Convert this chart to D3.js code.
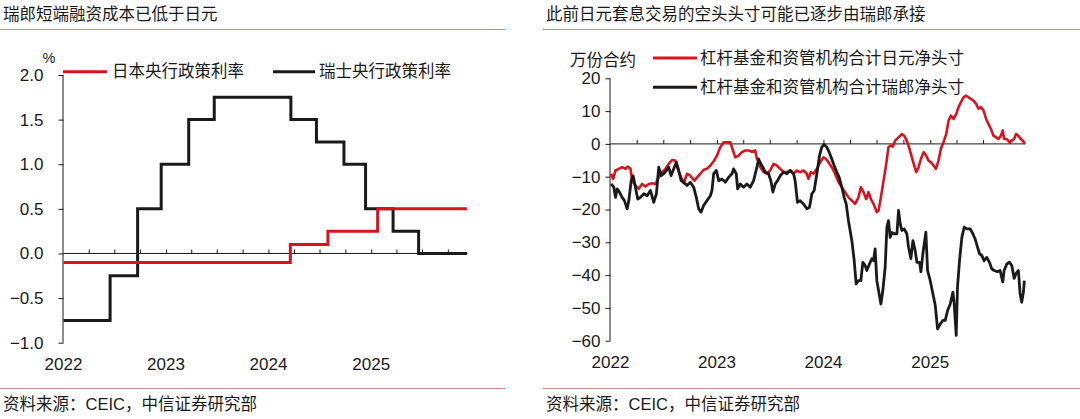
<!DOCTYPE html>
<html><head><meta charset="utf-8">
<script src="https://cdn.jsdelivr.net/npm/d3@7"></script>
<style>
body{margin:0;background:#fff;}
svg{display:block;}
text{font-family:"Liberation Sans","Noto Sans CJK SC",Arial,sans-serif;fill:#1a1a1a;}
</style></head>
<body>
<svg id="c" width="1080" height="419"></svg>
<script>
// ---------- DATA ----------
const leftTitle = "瑞郎短端融资成本已低于日元";
const rightTitle = "此前日元套息交易的空头头寸可能已逐步由瑞郎承接";
const sourceText = "资料来源：CEIC，中信证券研究部";
const leftLegend = ["日本央行政策利率", "瑞士央行政策利率"];
const rightLegend = ["杠杆基金和资管机构合计日元净头寸", "杠杆基金和资管机构合计瑞郎净头寸"];
const yearLabels = ["2022", "2023", "2024", "2025"];
const leftYTicks = [2.0, 1.5, 1.0, 0.5, 0.0, -0.5, -1.0];
const rightYTicks = [20, 10, 0, -10, -20, -30, -40, -50, -60];

const bojDates = ["2022-01-01", "2024-03-19", "2024-07-31", "2025-01-24"];
const bojRates = [-0.1, 0.1, 0.25, 0.5];
const snbDates = ["2022-01-01", "2022-06-16", "2022-09-22", "2022-12-15", "2023-03-23", "2023-06-22",
  "2024-03-21", "2024-06-20", "2024-09-26", "2024-12-12", "2025-03-20", "2025-06-19"];
const snbRates = [-0.75, -0.25, 0.5, 1.0, 1.5, 1.75, 1.5, 1.25, 1.0, 0.5, 0.25, 0.0];
const rateEnd = "2025-12-08";

// net positions (10k contracts), x as decimal year
const jpyT = [2022.006,2022.025,2022.047,2022.078,2022.109,2022.141,2022.163,2022.188,2022.203,2022.234,2022.266,2022.297,2022.328,2022.359,2022.391,2022.422,2022.453,2022.484,2022.516,2022.547,2022.578,2022.609,2022.631,2022.656,2022.688,2022.719,2022.75,2022.788,2022.813,2022.844,2022.875,2022.906,2022.938,2022.969,
  2023.0,2023.031,2023.063,2023.094,2023.125,2023.15,2023.172,2023.203,2023.234,2023.266,2023.297,2023.328,2023.359,2023.375,2023.391,2023.406,2023.438,2023.469,2023.5,2023.531,2023.563,2023.594,2023.625,2023.656,2023.688,2023.719,2023.75,2023.781,2023.813,2023.844,2023.859,2023.881,2023.906,2023.938,2023.969,
  2024.0,2024.025,2024.047,2024.078,2024.109,2024.141,2024.172,2024.203,2024.234,2024.266,2024.297,2024.328,2024.35,2024.375,2024.4,2024.422,2024.444,2024.469,2024.5,2024.516,2024.538,2024.563,2024.588,2024.609,2024.631,2024.65,2024.672,2024.703,2024.734,2024.756,2024.781,2024.806,2024.828,2024.85,2024.869,2024.891,2024.913,2024.938,2024.963,2024.984,
  2025.006,2025.031,2025.053,2025.078,2025.1,2025.125,2025.15,2025.172,2025.194,2025.219,2025.244,2025.266,2025.288,2025.313,2025.338,2025.359,2025.381,2025.406,2025.431,2025.453,2025.475,2025.5,2025.525,2025.547,2025.569,2025.594,2025.619,2025.641,2025.663,2025.681,2025.694,2025.719,2025.744,2025.766,2025.788,2025.806,2025.828,2025.85,2025.869,2025.891];
const jpyV = [-9.1,-10.7,-8.1,-7.6,-7.1,-7.6,-6.9,-7.6,-11.2,-12.7,-13.7,-12.2,-13.0,-12.2,-12.0,-12.2,-10.2,-8.6,-7.6,-6.1,-4.9,-5.1,-7.6,-9.7,-12.0,-9.1,-9.7,-11.2,-10.2,-9.1,-7.9,-7.6,-6.6,-5.3,
  -3.6,-1.0,0.5,0.5,0.5,-2.0,-4.1,-3.6,-2.5,-2.0,-2.0,-2.4,-2.0,-4.6,-5.1,-7.1,-8.6,-9.1,-8.1,-6.1,-6.6,-7.6,-8.6,-8.6,-8.1,-9.1,-8.1,-8.6,-8.1,-9.1,-10.7,-8.6,-9.1,-7.6,-5.6,
  -4.1,-4.6,-5.6,-7.1,-9.1,-11.7,-13.2,-14.7,-16.3,-17.3,-18.3,-16.3,-13.2,-14.7,-16.8,-14.7,-16.8,-18.3,-20.8,-20.3,-16.3,-11.2,-6.1,-1.0,-0.5,-0.8,1.0,2.0,3.0,2.5,1.0,-1.5,-4.1,-6.6,-8.6,-7.1,-4.6,-2.5,-3.6,-5.1,
  -5.6,-6.6,-7.6,-5.1,-1.5,0.5,3.0,7.1,8.6,7.6,9.1,11.2,12.7,14.2,14.7,14.2,13.7,13.2,12.2,10.7,11.2,10.2,7.6,6.1,4.6,2.5,2.0,1.5,2.5,4.1,1.5,1.5,0.5,1.0,1.5,3.0,2.5,1.5,1.0,0.0];

const chfT = [2022.006,2022.031,2022.047,2022.063,2022.084,2022.109,2022.131,2022.156,2022.172,2022.194,2022.213,2022.234,2022.256,2022.281,2022.313,2022.344,2022.375,2022.406,2022.431,2022.453,2022.475,2022.5,2022.525,2022.547,2022.569,2022.594,2022.619,2022.641,2022.663,2022.688,2022.719,2022.75,2022.781,2022.806,2022.828,2022.85,2022.875,2022.906,2022.938,2022.953,2022.969,2022.994,
  2023.016,2023.047,2023.078,2023.109,2023.141,2023.156,2023.181,2023.194,2023.219,2023.25,2023.281,2023.313,2023.344,2023.375,2023.391,2023.413,2023.431,2023.453,2023.484,2023.506,2023.525,2023.547,2023.569,2023.594,2023.625,2023.656,2023.688,2023.719,2023.734,2023.756,2023.781,2023.813,2023.844,2023.869,2023.891,2023.913,2023.938,2023.963,2023.984,
  2024.006,2024.031,2024.053,2024.078,2024.1,2024.125,2024.147,2024.172,2024.194,2024.213,2024.234,2024.266,2024.288,2024.306,2024.328,2024.35,2024.369,2024.391,2024.406,2024.431,2024.453,2024.469,2024.484,2024.5,2024.516,2024.538,2024.556,2024.578,2024.594,2024.609,2024.625,2024.641,2024.663,2024.688,2024.703,2024.719,2024.734,2024.756,2024.781,2024.797,2024.819,2024.838,2024.859,2024.875,2024.9,2024.913,2024.931,2024.959,2024.975,
  2025.0,2025.025,2025.047,2025.069,2025.094,2025.119,2025.141,2025.163,2025.188,2025.213,2025.225,2025.244,2025.256,2025.275,2025.297,2025.319,2025.344,2025.375,2025.4,2025.422,2025.444,2025.463,2025.484,2025.506,2025.531,2025.556,2025.578,2025.6,2025.631,2025.656,2025.681,2025.694,2025.719,2025.744,2025.766,2025.788,2025.806,2025.828,2025.844,2025.859,2025.875,2025.884];
const chfV = [-12.2,-13.2,-16.3,-13.7,-14.7,-16.3,-17.3,-19.8,-17.3,-11.2,-9.7,-13.2,-16.8,-16.3,-15.2,-15.8,-14.2,-17.8,-15.2,-7.1,-9.7,-9.1,-8.1,-7.1,-9.7,-7.6,-5.6,-8.1,-11.2,-11.7,-12.7,-11.7,-13.2,-16.3,-19.8,-20.8,-18.8,-17.3,-15.8,-14.2,-9.1,-8.1,
  -11.2,-10.7,-11.7,-10.2,-9.1,-7.6,-9.1,-13.7,-12.2,-13.2,-12.2,-13.2,-11.2,-7.1,-4.6,-6.1,-7.1,-8.6,-9.1,-11.2,-14.7,-12.2,-11.2,-9.7,-8.6,-9.1,-8.1,-9.1,-11.2,-17.8,-17.3,-18.3,-19.8,-19.3,-15.2,-14.2,-9.1,-3.6,-1.0,
  -0.2,-1.0,-2.5,-4.6,-6.6,-8.6,-10.2,-13.2,-16.3,-18.3,-23.4,-29.5,-35.6,-42.7,-41.7,-41.7,-36.1,-37.1,-38.6,-36.6,-35.0,-35.6,-32.0,-41.7,-44.7,-48.8,-44.7,-37.6,-25.4,-23.4,-28.5,-27.0,-27.4,-27.4,-20.3,-24.4,-26.4,-25.9,-27.4,-31.5,-35.0,-29.5,-32.5,-36.1,-36.1,-39.0,-33.5,-26.9,-38.6,
  -41.7,-45.7,-49.2,-56.4,-54.9,-53.8,-53.8,-50.8,-48.8,-45.2,-48.8,-58.4,-43.7,-35.6,-28.5,-25.4,-25.9,-25.9,-27.4,-29.0,-31.5,-33.5,-34.0,-35.6,-34.6,-36.1,-38.1,-38.6,-39.0,-38.6,-42.1,-38.6,-36.6,-36.1,-37.1,-41.0,-39.5,-38.6,-45.7,-48.3,-45.2,-41.7];

// ---------- HELPERS ----------
function decToDate(d) {
  const y = Math.floor(d), frac = d - y;
  const s = new Date(y, 0, 1), e = new Date(y + 1, 0, 1);
  return new Date(s.getTime() + frac * (e - s));
}
const parse = d3.timeParse("%Y-%m-%d");
const RED = "#d7141e", BLACK = "#1a1a1a", RULE = "#c98a8a";
const FONT = 16.5, NUMFONT = 17;

const svg = d3.select("#c");

function header(x0, x1, tx, title) {
  svg.append("text").attr("x", tx).attr("y", 20).attr("font-size", FONT).text(title);
  svg.append("line").attr("x1", x0).attr("x2", x1).attr("y1", 29.5).attr("y2", 29.5)
    .attr("stroke", RULE).attr("stroke-width", 1.2);
  svg.append("line").attr("x1", x0).attr("x2", x1).attr("y1", 388.5).attr("y2", 388.5)
    .attr("stroke", RULE).attr("stroke-width", 1.2);
  svg.append("text").attr("x", tx).attr("y", 410).attr("font-size", FONT).text(sourceText);
}

function panel(cfg) {
  const g = svg.append("g");
  const x = d3.scaleTime().domain(cfg.xDomain).range(cfg.xRange);
  const y = d3.scaleLinear().domain(cfg.yDomain).range(cfg.yRange);
  const ya = g.append("g").attr("transform", `translate(${cfg.xRange[0]},0)`)
    .call(d3.axisLeft(y).tickValues(cfg.yTicks).tickSize(5).tickPadding(cfg.tickPad).tickFormat(cfg.yFmt));
  ya.select(".domain").attr("stroke", BLACK).attr("d", `M-0.5,${cfg.yRange[1]}V${cfg.yRange[0]}`);
  ya.selectAll(".tick line").attr("stroke", BLACK);
  ya.selectAll("text").attr("font-size", NUMFONT).attr("font-family", "Liberation Sans, Arial, sans-serif").attr("fill", BLACK);
  const qTicks = d3.timeMonth.every(3).range(decToDate(cfg.xDomainDec[0] + 0.01), cfg.xDomain[1]);
  const xa = g.append("g").attr("transform", `translate(0,${y(0)})`)
    .call(d3.axisTop(x).tickValues(qTicks).tickSize(4).tickFormat(""));
  xa.select(".domain").attr("stroke", BLACK).attr("d", `M${cfg.xRange[0]},0H${cfg.xRange[1]}`);
  xa.selectAll(".tick line").attr("stroke", BLACK);
  g.selectAll(".yl").data(yearLabels).enter().append("text")
    .attr("x", d => x(parse(d + "-01-01"))).attr("y", cfg.yearY)
    .attr("text-anchor", "middle").attr("font-size", NUMFONT).text(d => d);
  return {x, y, g};
}

// ---------- LEFT ----------
header(0, 505, 3, leftTitle);
const L = panel({
  xDomain: [decToDate(2022), decToDate(2025.94)], xDomainDec: [2022, 2025.94],
  xRange: [63.5, 467.5], yDomain: [-1, 2], yRange: [342.7, 75],
  yTicks: leftYTicks, yFmt: d3.format(".1f"), tickPad: 15, yearY: 369.5
});
const stepLine = d3.line().x(d => L.x(d[0])).y(d => L.y(d[1])).curve(d3.curveStepAfter);
const snb = snbDates.map((d, i) => [parse(d), snbRates[i]]);
snb.push([parse(rateEnd), snbRates[snbRates.length - 1]]);
const boj = bojDates.map((d, i) => [parse(d), bojRates[i]]);
boj.push([parse(rateEnd), bojRates[bojRates.length - 1]]);
L.g.append("path").datum(snb).attr("d", stepLine).attr("fill", "none").attr("stroke", BLACK).attr("stroke-width", 3);
L.g.append("path").datum(boj).attr("d", stepLine).attr("fill", "none").attr("stroke", RED).attr("stroke-width", 3);
svg.append("text").attr("x", 49).attr("y", 63).attr("text-anchor", "middle").attr("font-size", 14.5).text("%");
[[63, 107, 112, RED, leftLegend[0]], [273, 315, 319, BLACK, leftLegend[1]]].forEach(([a, b, t, c, s]) => {
  svg.append("line").attr("x1", a).attr("x2", b).attr("y1", 71.7).attr("y2", 71.7).attr("stroke", c).attr("stroke-width", 3);
  svg.append("text").attr("x", t).attr("y", 71.7).attr("dy", "0.35em").attr("font-size", FONT).text(s);
});

// ---------- RIGHT ----------
header(543, 1080, 546, rightTitle);
const R = panel({
  xDomain: [decToDate(2022), decToDate(2025.89)], xDomainDec: [2022, 2025.89],
  xRange: [610.5, 1025], yDomain: [-60, 20], yRange: [340.7, 78.3],
  yTicks: rightYTicks, yFmt: d3.format("d"), tickPad: 5, yearY: 368
});
const line = d3.line().x(d => R.x(d[0])).y(d => R.y(d[1])).curve(d3.curveLinear);
const jpy = jpyT.map((t, i) => [decToDate(t), jpyV[i]]);
const chf = chfT.map((t, i) => [decToDate(t), chfV[i]]);
R.g.append("path").datum(jpy).attr("d", line).attr("fill", "none").attr("stroke", RED).attr("stroke-width", 2.6).attr("stroke-linejoin", "round");
R.g.append("path").datum(chf).attr("d", line).attr("fill", "none").attr("stroke", BLACK).attr("stroke-width", 2.8).attr("stroke-linejoin", "round");
svg.append("text").attr("x", 570).attr("y", 60.7).attr("dy", "0.35em").attr("font-size", FONT).text("万份合约");
[[653, 697, 700, RED, rightLegend[0], 58], [653, 697, 700, BLACK, rightLegend[1], 87.3]].forEach(([a, b, t, c, s, yy]) => {
  svg.append("line").attr("x1", a).attr("x2", b).attr("y1", yy).attr("y2", yy).attr("stroke", c).attr("stroke-width", 3);
  svg.append("text").attr("x", t).attr("y", yy).attr("dy", "0.35em").attr("font-size", FONT).text(s);
});
</script>
</body></html>
